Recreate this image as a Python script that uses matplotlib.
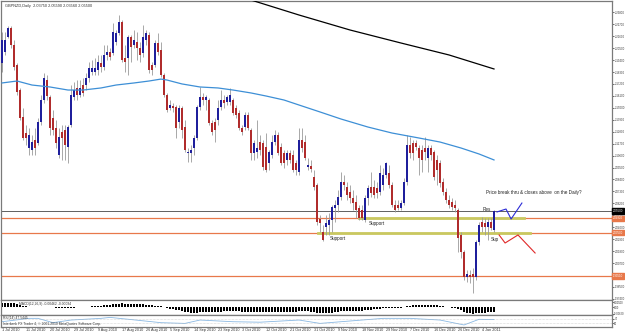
import numpy as np
import matplotlib
matplotlib.use('Agg')
import matplotlib.pyplot as plt

plt.rcParams['font.family'] = ['Liberation Sans', 'DejaVu Sans']

# GBPNZD daily candles, 1 Jul 2010 .. early Jan 2011
opens = [
    2.1912, 2.2015, 2.2153, 2.2235, 2.2079, 2.1894, 2.1664, 2.1415, 2.1268, 2.1130,
    2.1112, 2.1204, 2.1176, 2.1369, 2.1572, 2.1756, 2.1600, 2.1406, 2.1314, 2.1066,
    2.1277, 2.1296, 2.1139, 2.1342, 2.1600, 2.1683, 2.1618, 2.1710, 2.1710, 2.1775,
    2.1830, 2.1830, 2.1848, 2.1912, 2.1876, 2.1987, 2.2015, 2.2005, 2.2107, 2.2189,
    2.2290, 2.1959, 2.1959, 2.2152, 2.2079, 2.2107, 2.2051, 2.2005, 2.2125, 2.2171,
    2.1894, 2.1894, 2.2097, 2.2033, 2.1802, 2.1618, 2.1498, 2.1517, 2.1508, 2.1369,
    2.1498, 2.1323, 2.1084, 2.1084, 2.1130, 2.1222, 2.1508, 2.1600, 2.1572, 2.1572,
    2.1360, 2.1369, 2.1388, 2.1508, 2.1572, 2.1554, 2.1554, 2.1572, 2.1498, 2.1452,
    2.1314, 2.1323, 2.1434, 2.1296, 2.1084, 2.1093, 2.1185, 2.1176, 2.1139, 2.0992,
    2.1066, 2.1185, 2.1250, 2.1139, 2.1084, 2.1020, 2.1084, 2.1066, 2.0992, 2.0909,
    2.1204, 2.1185, 2.0955, 2.0964, 2.0863, 2.0789, 2.0476, 2.0356, 2.0402, 2.0421,
    2.0467, 2.0577, 2.0605, 2.0679, 2.0817, 2.0771, 2.0725, 2.0670, 2.0633, 2.0577,
    2.0559, 2.0467, 2.0670, 2.0771, 2.0771, 2.0762, 2.0725, 2.0789, 2.0881, 2.0900,
    2.0789, 2.0605, 2.0605, 2.0577, 2.0623, 2.0817, 2.1158, 2.1176, 2.1176, 2.1130,
    2.1112, 2.1130, 2.1038, 2.1130, 2.1093, 2.1020, 2.0992, 2.0817, 2.0725, 2.0651,
    2.0633, 2.0605, 2.0559, 2.0329, 2.0172, 1.9942, 1.9960, 1.9970, 1.9942, 2.0264,
    2.0448, 2.0439, 2.0402, 2.0448, 2.0375,
]
highs = [
    2.2199, 2.2199, 2.2254, 2.2254, 2.2125, 2.1912, 2.1683, 2.1498, 2.1342, 2.1314,
    2.1250, 2.1314, 2.1406, 2.1618, 2.1821, 2.1802, 2.1618, 2.1480, 2.1388, 2.1314,
    2.1342, 2.1342, 2.1342, 2.1710, 2.1738, 2.1756, 2.1756, 2.1775, 2.1821, 2.1922,
    2.1940, 2.1959, 2.1987, 2.1987, 2.2079, 2.2079, 2.2051, 2.2281, 2.2217, 2.2355,
    2.2309, 2.2079, 2.2171, 2.2171, 2.2217, 2.2199, 2.2107, 2.2263, 2.2217, 2.2199,
    2.1922, 2.2125, 2.2189, 2.2107, 2.1821, 2.1637, 2.1572, 2.1544, 2.1526, 2.1526,
    2.1517, 2.1388, 2.1130, 2.1158, 2.1250, 2.1526, 2.1692, 2.1637, 2.1618, 2.1590,
    2.1388, 2.1406, 2.1572, 2.1664, 2.1618, 2.1618, 2.1683, 2.1590, 2.1526, 2.1480,
    2.1342, 2.1462, 2.1462, 2.1314, 2.1204, 2.1388, 2.1250, 2.1204, 2.1268, 2.1112,
    2.1250, 2.1296, 2.1277, 2.1176, 2.1112, 2.1112, 2.1112, 2.1112, 2.1020, 2.1314,
    2.1314, 2.1250, 2.1038, 2.1020, 2.0927, 2.0808, 2.0513, 2.0421, 2.0513, 2.0531,
    2.0605, 2.0651, 2.0743, 2.0909, 2.0881, 2.0817, 2.0789, 2.0743, 2.0697, 2.0605,
    2.0605, 2.0697, 2.0789, 2.0909, 2.0835, 2.0817, 2.0973, 2.0946, 2.1001, 2.0973,
    2.0817, 2.0651, 2.0651, 2.0651, 2.0854, 2.1250, 2.1231, 2.1204, 2.1204, 2.1158,
    2.1158, 2.1231, 2.1158, 2.1158, 2.1112, 2.1066, 2.1020, 2.0854, 2.0762, 2.0697,
    2.0670, 2.0651, 2.0577, 2.0356, 2.0191, 2.0006, 2.0006, 2.0025, 2.0283, 2.0448,
    2.0494, 2.0485, 2.0485, 2.0485, 2.0559,
]
lows = [
    2.1830, 2.1987, 2.2143, 2.2051, 2.1848, 2.1618, 2.1388, 2.1204, 2.1158, 2.1066,
    2.1066, 2.1066, 2.1158, 2.1342, 2.1544, 2.1572, 2.1250, 2.1250, 2.1130, 2.1038,
    2.1020, 2.1020, 2.0992, 2.1323, 2.1572, 2.1572, 2.1600, 2.1609, 2.1664, 2.1738,
    2.1802, 2.1802, 2.1802, 2.1830, 2.1848, 2.1940, 2.1940, 2.1987, 2.2079, 2.2171,
    2.1922, 2.1830, 2.1802, 2.1922, 2.2051, 2.1940, 2.1922, 2.1968, 2.2079, 2.1821,
    2.1802, 2.1876, 2.1987, 2.1784, 2.1600, 2.1462, 2.1480, 2.1462, 2.1222, 2.1314,
    2.1222, 2.1093, 2.1001, 2.1001, 2.1066, 2.1204, 2.1480, 2.1526, 2.1480, 2.1342,
    2.1250, 2.1185, 2.1342, 2.1480, 2.1498, 2.1526, 2.1526, 2.1434, 2.1406, 2.1296,
    2.1250, 2.1296, 2.1296, 2.1020, 2.1020, 2.1038, 2.1066, 2.0927, 2.0909, 2.0927,
    2.1038, 2.1158, 2.1066, 2.0973, 2.0946, 2.0973, 2.0992, 2.0909, 2.0881, 2.0881,
    2.1093, 2.1020, 2.0927, 2.0909, 2.0743, 2.0421, 2.0356, 2.0273, 2.0329, 2.0329,
    2.0356, 2.0448, 2.0541, 2.0651, 2.0743, 2.0651, 2.0623, 2.0559, 2.0485, 2.0467,
    2.0467, 2.0448, 2.0605, 2.0679, 2.0670, 2.0670, 2.0697, 2.0743, 2.0854, 2.0762,
    2.0587, 2.0541, 2.0559, 2.0559, 2.0605, 2.0789, 2.1038, 2.1020, 2.1112, 2.0881,
    2.0909, 2.1020, 2.0909, 2.1020, 2.0835, 2.0789, 2.0771, 2.0697, 2.0623, 2.0577,
    2.0559, 2.0541, 2.0172, 2.0117, 1.9914, 1.9896, 1.9887, 1.9795, 1.9914, 2.0237,
    2.0356, 2.0329, 2.0283, 2.0375, 2.0356,
]
closes = [
    2.2125, 2.2125, 2.2235, 2.2079, 2.1876, 2.1646, 2.1406, 2.1222, 2.1222, 2.1250,
    2.1185, 2.1130, 2.1369, 2.1572, 2.1775, 2.1609, 2.1314, 2.1296, 2.1176, 2.1231,
    2.1222, 2.1158, 2.1323, 2.1618, 2.1664, 2.1618, 2.1683, 2.1637, 2.1775, 2.1867,
    2.1867, 2.1867, 2.1922, 2.1876, 2.1987, 2.2015, 2.1968, 2.2199, 2.2189, 2.2290,
    2.1940, 2.1922, 2.2152, 2.2060, 2.2125, 2.2051, 2.1987, 2.2152, 2.2189, 2.1848,
    2.1848, 2.2097, 2.2015, 2.1802, 2.1618, 2.1480, 2.1526, 2.1498, 2.1314, 2.1498,
    2.1296, 2.1112, 2.1093, 2.1112, 2.1222, 2.1508, 2.1600, 2.1572, 2.1600, 2.1360,
    2.1277, 2.1296, 2.1498, 2.1572, 2.1544, 2.1600, 2.1618, 2.1452, 2.1434, 2.1314,
    2.1277, 2.1434, 2.1314, 2.1084, 2.1176, 2.1130, 2.1112, 2.0955, 2.0927, 2.1093,
    2.1185, 2.1250, 2.1084, 2.0992, 2.0992, 2.1084, 2.1020, 2.0927, 2.0927, 2.1204,
    2.1130, 2.1038, 2.0973, 2.0937, 2.0771, 2.0448, 2.0439, 2.0283, 2.0439, 2.0467,
    2.0587, 2.0605, 2.0679, 2.0817, 2.0789, 2.0697, 2.0670, 2.0623, 2.0559, 2.0485,
    2.0485, 2.0670, 2.0762, 2.0716, 2.0697, 2.0716, 2.0900, 2.0881, 2.0992, 2.0789,
    2.0605, 2.0559, 2.0577, 2.0623, 2.0817, 2.1158, 2.1084, 2.1084, 2.1139, 2.1038,
    2.1020, 2.1093, 2.1130, 2.1066, 2.0863, 2.0927, 2.0808, 2.0725, 2.0651, 2.0605,
    2.0587, 2.0577, 2.0301, 2.0172, 1.9942, 1.9970, 1.9942, 1.9942, 2.0264, 2.0421,
    2.0402, 2.0402, 2.0448, 2.0393, 2.0550,
]

# moving averages sampled along the chart (bar index, price)
ma_fast_bar = [0, 5, 10, 16, 22, 27, 33, 38, 44, 49, 53, 55, 60, 66, 72, 77, 83, 88,
               94, 99, 106, 113, 122, 130, 139, 146, 153, 159, 164]
ma_fast_val = [2.1729, 2.1747, 2.1710, 2.1692, 2.1664, 2.1664, 2.1683, 2.1710, 2.1729,
               2.1747, 2.1765, 2.1756, 2.1720, 2.1692, 2.1683, 2.1664, 2.1637, 2.1609,
               2.1572, 2.1526, 2.1462, 2.1397, 2.1323, 2.1268, 2.1222, 2.1185, 2.1130,
               2.1075, 2.1020]
ma_slow_bar = [79, 83, 99, 116, 133, 149, 164]
ma_slow_val = [2.2521, 2.2493, 2.2355, 2.2217, 2.2097, 2.1987, 2.1858]

# MACD histogram (x 0.001)
macd_hist = [
    4.5, 4.6, 4.8, 4.5, 4.0, 3.4, 2.6, 1.8, 1.0,
    0.6, 0.4, 0.3, 0.3, 0.4, 0.5, 0.4, 0.2, 0.0, -0.2,
    -0.4, -0.5, -0.6, -0.5, -0.3, -0.2, -0.1, 0.0, 0.2, 0.4, 0.6,
    0.9, 1.2, 1.5, 1.8, 2.2, 2.5, 2.8, 3.2, 3.5, 3.8, 4.0, 3.8, 3.6, 3.5, 3.4, 3.2,
    3.0, 2.9, 2.8, 2.4, 2.0, 1.8, 1.5,
    1.0, 0.4, -0.4, -1.2, -1.8, -2.5, -3.0, -3.6, -4.3, -5.0, -5.6, -5.8, -5.4, -4.8,
    -4.4, -4.2,
    -4.4, -4.8, -5.0, -4.8, -4.4, -4.0, -3.8, -3.6, -3.6, -3.8, -4.0, -4.3, -4.4, -4.5,
    -4.8, -5.0, -4.9, -4.8, -4.9, -5.0, -4.8, -4.5, -4.3, -4.3, -4.4, -4.4, -4.3, -4.3,
    -4.4, -4.5, -4.0,
    -3.8, -3.8, -4.0, -4.2, -4.6, -5.4, -5.8, -6.0, -5.8, -5.6, -5.2, -4.8, -4.3, -3.8,
    -3.5, -3.4, -3.3, -3.3, -3.4, -3.5, -3.4,
    -3.0, -2.6, -2.2, -1.9, -1.6, -1.2, -0.9, -0.6, -0.5, -0.5, -0.6, -0.5,
    -0.2, 0.4, 1.2, 1.8, 2.2, 2.5, 2.6, 2.6, 2.6, 2.6, 2.5, 2.3, 2.1, 1.7,
    1.2, 0.7, 0.2, -0.4, -1.0, -2.0, -3.0, -4.2, -5.2, -5.8, -6.2, -6.0, -5.6, -5.4,
    -5.2, -5.0, -4.8, -4.6,
]

# RSI(14) sampled
rsi_bar = [0, 9, 12, 17, 23, 33, 36, 43, 53, 61, 66, 77, 86, 99, 106, 116, 127, 136,
           146, 154, 159, 164]
rsi_val = [44, 72, 72, 36, 58, 72, 80, 62, 36, 30, 58, 44, 40, 58, 30, 50, 72, 72,
           58, 17, 64, 62]

date_labels = ['1 Jul 2010', '11 Jul 2010', '20 Jul 2010', '29 Jul 2010', '9 Aug 2010',
               '17 Aug 2010', '26 Aug 2010', '5 Sep 2010', '14 Sep 2010', '23 Sep 2010',
               '3 Oct 2010', '12 Oct 2010', '21 Oct 2010', '31 Oct 2010', '9 Nov 2010',
               '18 Nov 2010', '29 Nov 2010', '7 Dec 2010', '16 Dec 2010', '26 Dec 2010',
               '4 Jan 2011']
price_ticks = [2.2380 - 0.011 * k for k in range(25)]

orange_levels = [2.0482, 2.0350, 1.9951]
support_upper = 2.0485
support_lower = 2.0347

BULL = '#1f1f9c'
BEAR = '#b02c2c'
WICK = '#9a9a9a'
ORANGE = '#e8784a'
OLIVE = '#c9c860'
GRID = '#7a7a7a'

W, H = 625, 334


def rect(x0, y0, x1, y1):
    return [x0 / W, 1 - y1 / H, (x1 - x0) / W, (y1 - y0) / H]


fig = plt.figure(figsize=(W / 100, H / 100), dpi=100)
fig.patch.set_facecolor('white')
ax = fig.add_axes(rect(1, 1, 612, 300))
axh = fig.add_axes(rect(1, 300, 612, 315))
axr = fig.add_axes(rect(1, 315, 612, 327))

xmin, xmax = -1 / 3, 610 / 3
n = len(closes)
x = np.arange(n)
o = np.array(opens)
c = np.array(closes)
up = c >= o

for a in (ax, axh, axr):
    a.set_xlim(xmin, xmax)
    for s in a.spines.values():
        s.set_color(GRID)
        s.set_linewidth(0.9)
    a.set_xticks([])

# candles
ax.vlines(x, lows, highs, color=WICK, linewidth=0.6, zorder=2)
ax.bar(x[up], (c - o)[up], bottom=o[up], width=0.62, color=BULL, linewidth=0, zorder=3)
ax.bar(x[~up], (o - c)[~up], bottom=c[~up], width=0.62, color=BEAR, linewidth=0, zorder=3)

ax.plot(ma_fast_bar, ma_fast_val, color='#3d8fd6', linewidth=0.9, zorder=4)
ax.plot(ma_slow_bar, ma_slow_val, color='black', linewidth=0.9, zorder=4)

# levels
for lv in orange_levels:
    ax.axhline(lv, color=ORANGE, linewidth=0.9, zorder=1)
ax.axhline(closes[-1], color='#606060', linewidth=0.7, zorder=1)
ax.plot([119, 174], [support_upper, support_upper], color=OLIVE, linewidth=2.0, zorder=1.5)
ax.plot([105.3, 176], [support_lower, support_lower], color=OLIVE, linewidth=2.0, zorder=1.5)

# projections
ax.plot([165, 168, 169.7, 173.3], [2.0541, 2.0568, 2.0476, 2.0623], color='#2b2bd6', linewidth=0.8, zorder=5)
ax.plot([165.7, 167.7, 172, 177.7], [2.0329, 2.0255, 2.0329, 2.0163], color='#e02828', linewidth=0.8, zorder=5)

fs = 3.3
ax.text(109.3, 2.0292, 'Support', fontsize=fs, va='center', ha='left', color='#222222')
ax.text(122.3, 2.0439, 'Support', fontsize=fs, va='center', ha='left', color='#222222')
ax.text(160.3, 2.0560, 'Res', fontsize=fs, va='center', ha='left', color='#222222')
ax.text(163.0, 2.0283, 'Sup', fontsize=fs, va='center', ha='left', color='#222222')
ax.text(161.3, 2.0716, 'Price break thru & closes above  on the Daily?', fontsize=fs,
        va='center', ha='left', color='#222222')
ax.text(0.006, 0.99, 'GBPNZD,Daily  %.5f %.5f %.5f %.5f' % (opens[-1], highs[-1], lows[-1], closes[-1]),
        transform=ax.transAxes, fontsize=2.8, va='top', ha='left', color='#333333')

ax.set_ylim(1.9730, 2.2484)
ax.yaxis.tick_right()
ax.set_yticks(price_ticks)
ax.set_yticklabels(['%.5f' % v for v in price_ticks])
ax.tick_params(axis='y', length=1.2, width=0.5, pad=0.5, labelsize=2.0, colors='#333333')

# price boxes on the axis
bt = ax.get_yaxis_transform()
ax.text(1.0015, closes[-1], '%.5f' % closes[-1], transform=bt, fontsize=2.0, color='white',
        va='center', ha='left', zorder=10, clip_on=False,
        bbox=dict(boxstyle='square,pad=0.25', facecolor='black', edgecolor='black'))
for lv in orange_levels:
    ax.text(1.0015, lv, '%.5f' % lv, transform=bt, fontsize=2.0, color='white',
            va='center', ha='left', zorder=10, clip_on=False,
            bbox=dict(boxstyle='square,pad=0.25', facecolor=ORANGE, edgecolor=ORANGE))

# MACD histogram panel
axh.bar(np.arange(len(macd_hist)), macd_hist, width=0.45, color='black', linewidth=0)
axh.set_ylim(-7.7, 7.3)
axh.yaxis.tick_right()
axh.set_yticks([5.0, 0.0, -6.2])
axh.set_yticklabels(['0.00500', '0.00', '-0.00620'])
axh.tick_params(axis='y', length=1.2, width=0.5, pad=0.5, labelsize=1.9, colors='#333333')
axh.text(0.03, 0.85, 'MACD(12,26,9) -0.00462 -0.00034', transform=axh.transAxes,
         fontsize=2.4, va='top', ha='left', color='#333333')

# RSI panel
axr.plot(rsi_bar, rsi_val, color='#8ab8e2', linewidth=0.6)
for lv in (70, 30):
    axr.axhline(lv, color='#b5b5b5', linewidth=0.4, linestyle=(0, (1, 1.5)))
axr.set_ylim(0, 100)
axr.yaxis.tick_right()
axr.set_yticks([70, 30])
axr.set_yticklabels(['70', '30'])
axr.tick_params(axis='y', length=1.2, width=0.5, pad=0.5, labelsize=1.9, colors='#333333')
axr.text(0.003, 0.95, 'RSI(14) 47.5445', transform=axr.transAxes, fontsize=2.4,
         va='top', ha='left', color='#333333')
axr.text(0.003, 0.05, 'Interbank FX Trader 4, \u00a9 2001-2010 MetaQuotes Software Corp.',
         transform=axr.transAxes, fontsize=2.4, va='bottom', ha='left', color='#333333')

axr.set_xticks(np.arange(0, 8 * len(date_labels), 8))
axr.set_xticklabels(date_labels)
axr.tick_params(axis='x', length=0, pad=1.0, labelsize=2.7, colors='#333333')
for lab in axr.get_xticklabels():
    lab.set_ha('left')

fig.savefig('out.png', dpi=100)
